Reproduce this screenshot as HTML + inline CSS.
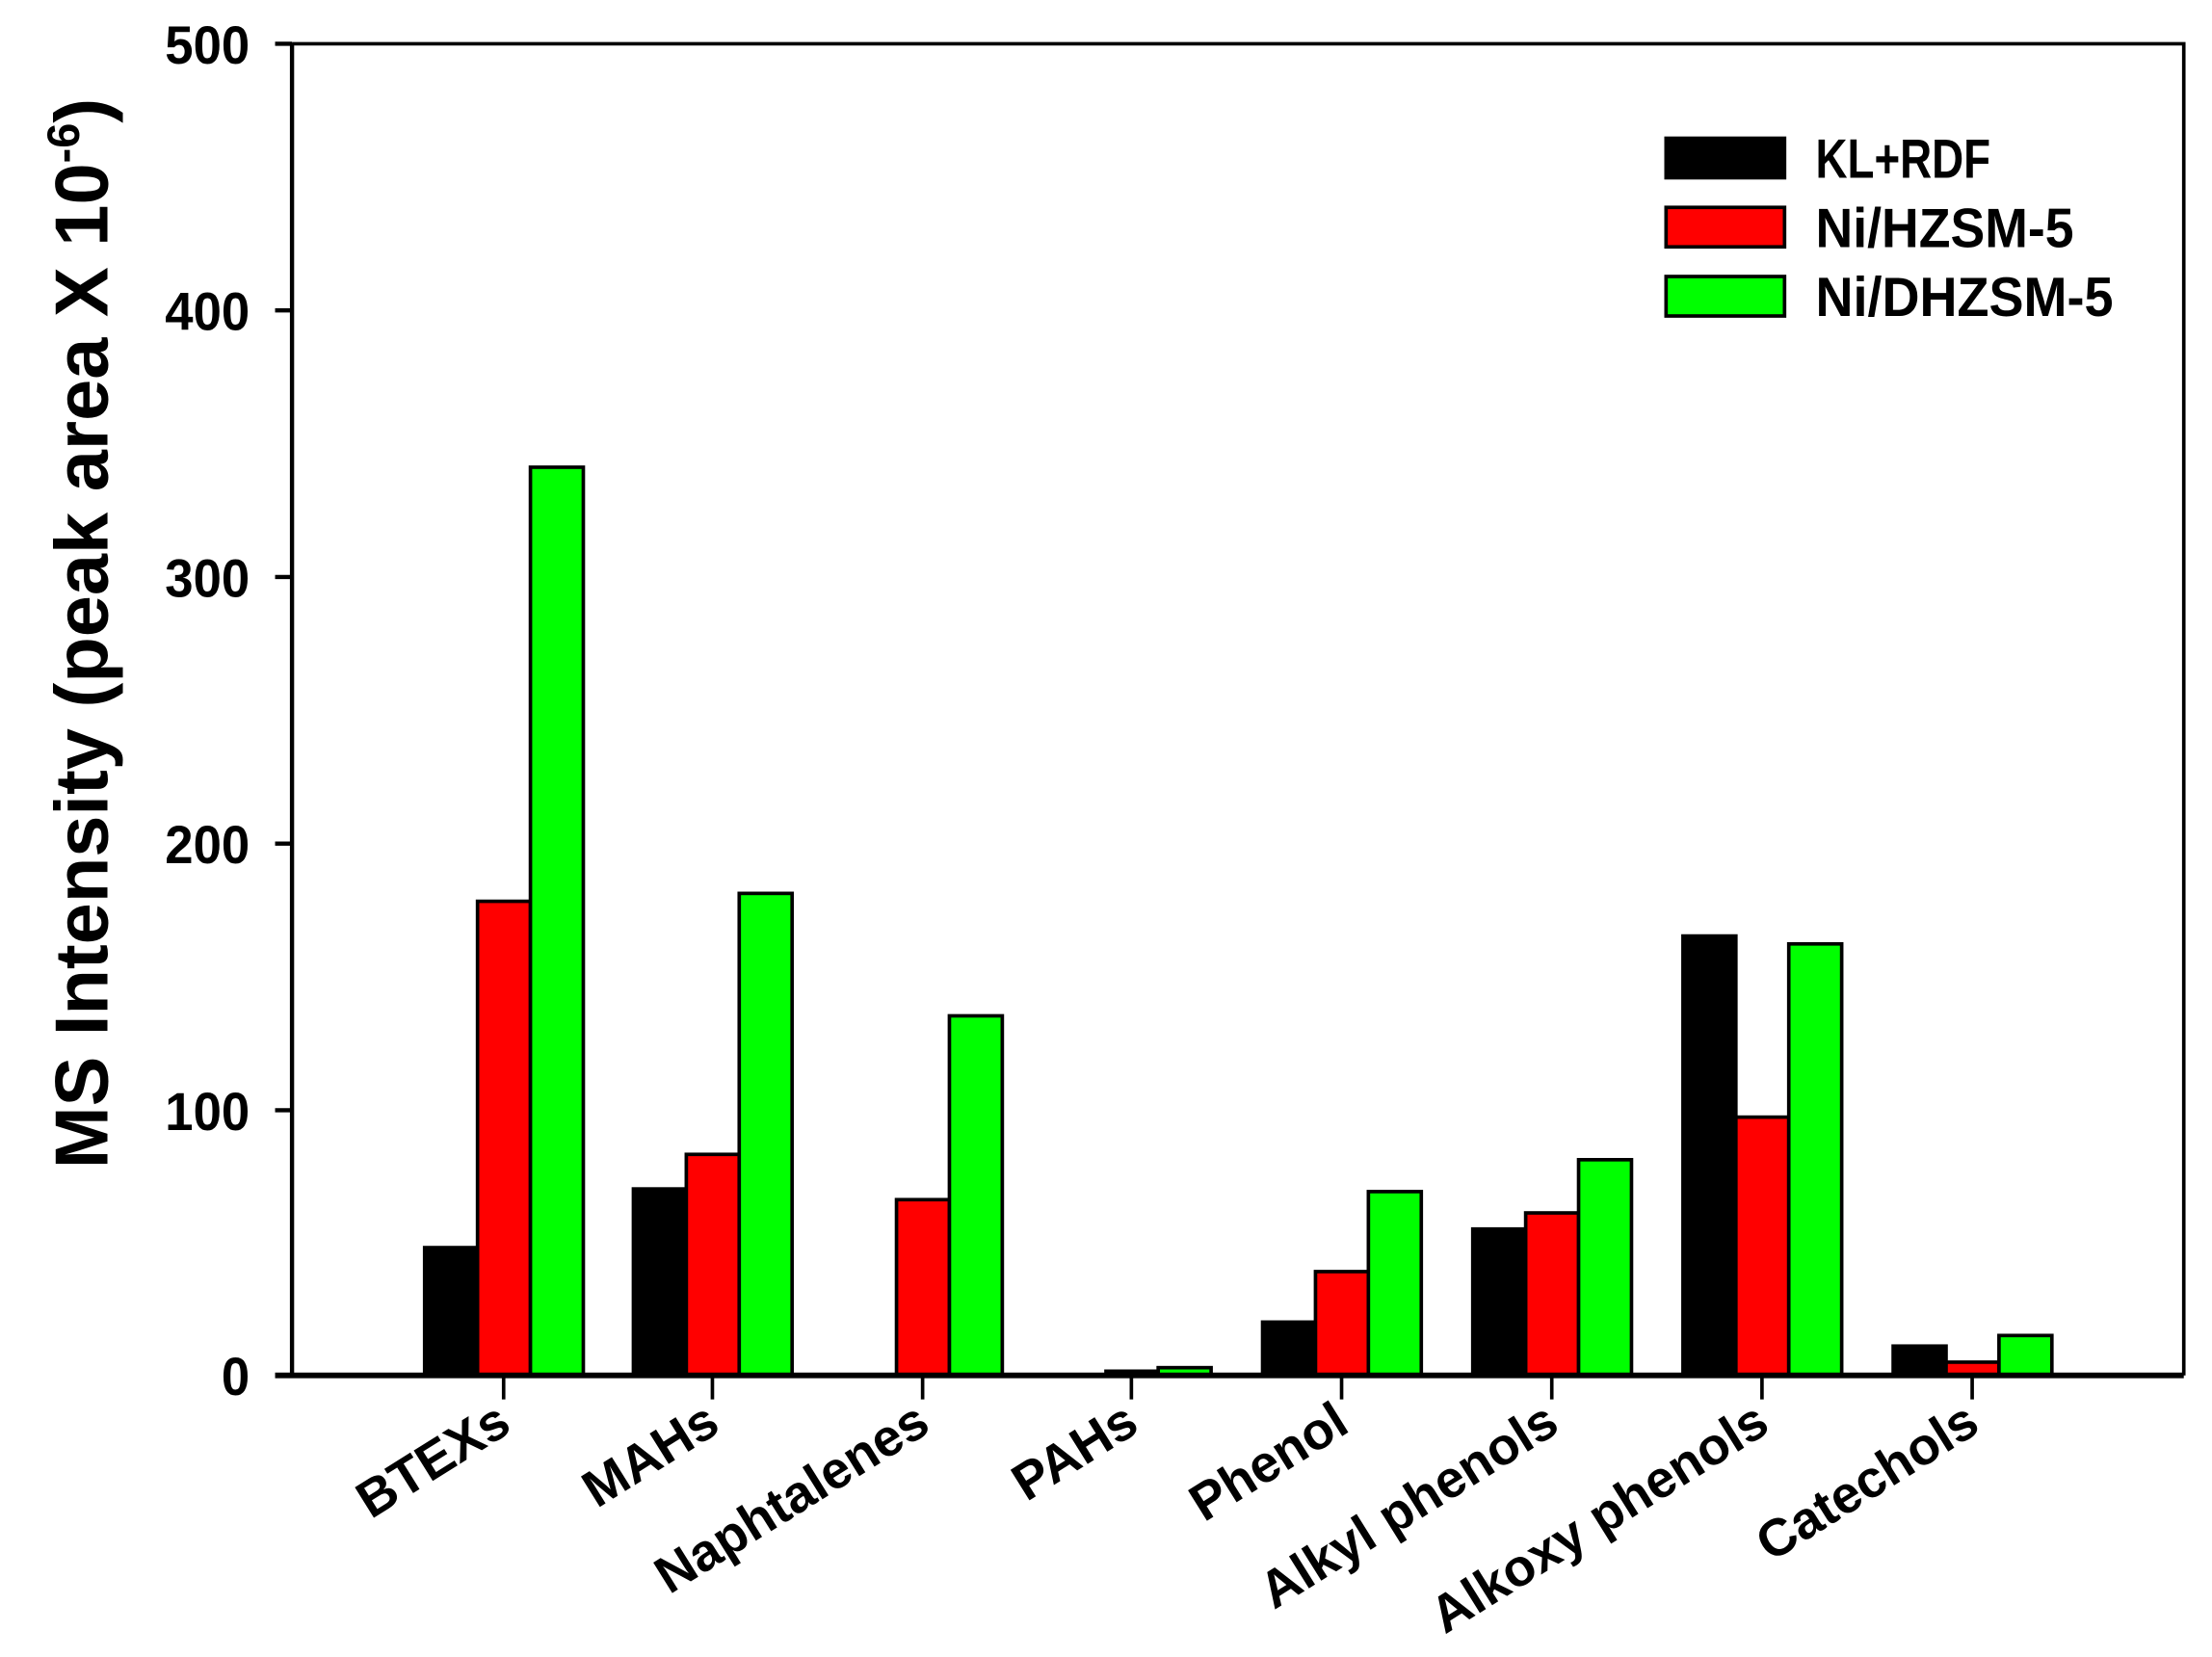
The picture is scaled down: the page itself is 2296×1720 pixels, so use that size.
<!DOCTYPE html>
<html><head><meta charset="utf-8"><style>html,body{margin:0;padding:0;background:#fff;}svg{display:block}</style></head>
<body>
<svg width="2296" height="1720" viewBox="0 0 1568 1174.6" preserveAspectRatio="none" xmlns="http://www.w3.org/2000/svg" font-family="Liberation Sans, Arial, sans-serif" font-weight="bold">
<rect width="1568" height="1175" fill="#fff"/>
<g stroke="#000" stroke-width="2.5">
<rect x="301" y="884.4" width="37.5" height="90.6" fill="#000"/>
<rect x="338.5" y="638.9" width="37.5" height="336.1" fill="#f00"/>
<rect x="376" y="331.2" width="37.5" height="643.8" fill="#0f0"/>
<rect x="449" y="842.8" width="37.5" height="132.2" fill="#000"/>
<rect x="486.5" y="818.3" width="37.5" height="156.7" fill="#f00"/>
<rect x="524" y="633.3" width="37.5" height="341.7" fill="#0f0"/>
<rect x="635.5" y="850.4" width="37.5" height="124.6" fill="#f00"/>
<rect x="673" y="720.1" width="37.5" height="254.9" fill="#0f0"/>
<rect x="784" y="972" width="37.5" height="3" fill="#000"/>
<rect x="821" y="969.5" width="37.5" height="5.5" fill="#0f0"/>
<rect x="895" y="937.2" width="37.5" height="37.8" fill="#000"/>
<rect x="932.5" y="901.4" width="37.5" height="73.6" fill="#f00"/>
<rect x="970" y="844.7" width="37.5" height="130.3" fill="#0f0"/>
<rect x="1044" y="871.2" width="37.5" height="103.8" fill="#000"/>
<rect x="1081.5" y="859.8" width="37.5" height="115.2" fill="#f00"/>
<rect x="1119" y="822.1" width="37.5" height="152.9" fill="#0f0"/>
<rect x="1193" y="663.5" width="37.5" height="311.5" fill="#000"/>
<rect x="1230.5" y="791.9" width="37.5" height="183.1" fill="#f00"/>
<rect x="1268" y="669.1" width="37.5" height="305.9" fill="#0f0"/>
<rect x="1342" y="954.2" width="37.5" height="20.8" fill="#000"/>
<rect x="1379.5" y="965.6" width="37.5" height="9.4" fill="#f00"/>
<rect x="1417" y="946.7" width="37.5" height="28.3" fill="#0f0"/>
</g>
<g stroke="#000" fill="none">
<path d="M207 31 H1548 V975" stroke-width="2.5"/>
<path d="M207 31 V975" stroke-width="3"/>
<path d="M195 975 H1548" stroke-width="4"/>
<path d="M195 31H207M195 220H207M195 409H207M195 598H207M195 787H207" stroke-width="3"/>
<path d="M357 975V992M505 975V992M654 975V992M802 975V992M951 975V992M1100 975V992M1249 975V992M1398 975V992" stroke-width="2.5"/>
</g>
<g font-size="38" text-anchor="end" fill="#000">
<text x="177" y="45" textLength="60" lengthAdjust="spacingAndGlyphs">500</text>
<text x="177" y="234" textLength="60" lengthAdjust="spacingAndGlyphs">400</text>
<text x="177" y="423" textLength="60" lengthAdjust="spacingAndGlyphs">300</text>
<text x="177" y="612" textLength="60" lengthAdjust="spacingAndGlyphs">200</text>
<text x="177" y="801" textLength="60" lengthAdjust="spacingAndGlyphs">100</text>
<text x="177" y="989" textLength="20" lengthAdjust="spacingAndGlyphs">0</text>
</g>
<text transform="translate(76,449) rotate(-90)" text-anchor="middle" font-size="53">MS Intensity (peak area X 10<tspan dy="-20" font-size="32">-6</tspan><tspan dy="20">)</tspan></text>
<g font-size="37" text-anchor="end">
<text transform="translate(364,1014) rotate(-32)">BTEXs</text>
<text transform="translate(512,1014) rotate(-32)">MAHs</text>
<text transform="translate(661,1014) rotate(-32)">Naphtalenes</text>
<text transform="translate(809,1014) rotate(-32)">PAHs</text>
<text transform="translate(958,1014) rotate(-32)">Phenol</text>
<text transform="translate(1107,1014) rotate(-32)">Alkyl phenols</text>
<text transform="translate(1256,1014) rotate(-32)">Alkoxy phenols</text>
<text transform="translate(1405,1014) rotate(-32)">Catechols</text>
</g>
<g stroke="#000" stroke-width="2.5">
<rect x="1181" y="98" width="84" height="28" fill="#000"/>
<rect x="1181" y="147" width="84" height="28" fill="#f00"/>
<rect x="1181" y="196" width="84" height="28" fill="#0f0"/>
</g>
<g font-size="39">
<text x="1287" y="126" textLength="124" lengthAdjust="spacingAndGlyphs">KL+RDF</text>
<text x="1287" y="175" textLength="183" lengthAdjust="spacingAndGlyphs">Ni/HZSM-5</text>
<text x="1287" y="224" textLength="211" lengthAdjust="spacingAndGlyphs">Ni/DHZSM-5</text>
</g>
</svg>
</body></html>
